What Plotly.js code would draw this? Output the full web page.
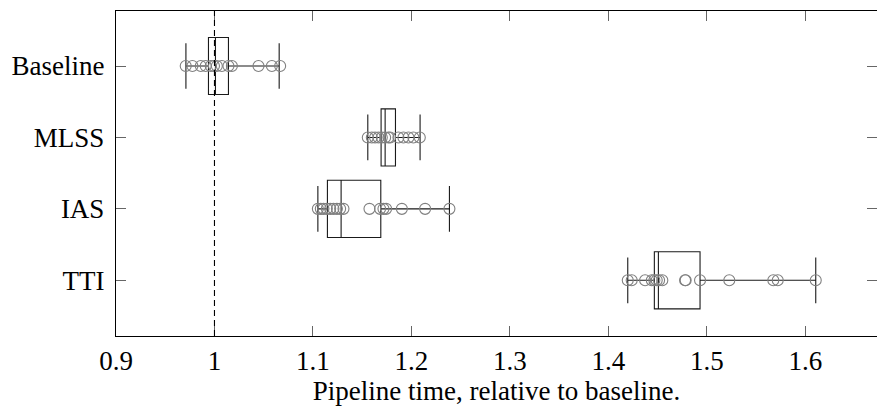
<!DOCTYPE html>
<html>
<head>
<meta charset="utf-8">
<script src="https://cdn.plot.ly/plotly-3.0.1.min.js"></script>
<style>html,body{margin:0;padding:0;background:#fff;}#chart{width:877px;height:408px;}</style>
</head>
<body>
<div id="chart"></div>
<script>
var categories = ['Baseline', 'MLSS', 'IAS', 'TTI'];

var q1Values = [0.9939, 1.1692, 1.1147, 1.4467];
var medianValues = [1.0010, 1.1733, 1.1286, 1.4508];
var q3Values = [1.0142, 1.1838, 1.1689, 1.4931];
var lowerWhiskers = [0.9710, 1.1557, 1.1050, 1.4197];
var upperWhiskers = [1.0657, 1.2088, 1.2386, 1.6106];

var baselinePoints = [0.9708, 0.9776, 0.9861, 0.9911, 0.9962, 0.9995, 1.0024, 1.0075, 1.0142, 1.0177, 1.0447, 1.0583, 1.0667];
var mlssPoints = [1.1557, 1.1598, 1.1631, 1.1665, 1.1699, 1.1733, 1.1766, 1.1784, 1.1868, 1.1919, 1.1970, 1.2020, 1.2085];
var iasPoints = [1.1050, 1.1080, 1.1107, 1.1141, 1.1175, 1.1208, 1.1243, 1.1276, 1.1310, 1.1574, 1.1682, 1.1716, 1.1743, 1.1903, 1.2139, 1.2386];
var ttiPoints = [1.4197, 1.4237, 1.4373, 1.4441, 1.4467, 1.4491, 1.4515, 1.4548, 1.4779, 1.4785, 1.4931, 1.5228, 1.5675, 1.5720, 1.6106];

var xTickValues = [0.9, 1.0, 1.1, 1.2, 1.3, 1.4, 1.5, 1.6];
var xTickLabels = ['0.9', '1', '1.1', '1.2', '1.3', '1.4', '1.5', '1.6'];
var referenceValue = 1.0;

var allPoints = [baselinePoints, mlssPoints, iasPoints, ttiPoints];
var px = [], py = [];
allPoints.forEach(function (arr, i) {
  arr.forEach(function (v) { px.push(v); py.push(categories[i]); });
});

var boxTrace = {
  type: 'box',
  orientation: 'h',
  y: categories,
  q1: q1Values,
  median: medianValues,
  q3: q3Values,
  lowerfence: lowerWhiskers,
  upperfence: upperWhiskers,
  width: 0.8,
  whiskerwidth: 0.8,
  fillcolor: 'rgba(0,0,0,0)',
  line: {color: '#1a1a1a', width: 1.1},
  boxpoints: false,
  hoverinfo: 'skip',
  showlegend: false
};

var pointTrace = {
  type: 'scatter',
  mode: 'markers',
  x: px,
  y: py,
  marker: {symbol: 'circle-open', size: 11, color: '#808080', line: {width: 1.1, color: '#808080'}},
  hoverinfo: 'skip',
  showlegend: false
};

var serif = 'Liberation Serif';

var layout = {
  width: 877,
  height: 408,
  margin: {l: 116, r: 0, t: 11, b: 72},
  paper_bgcolor: '#fff',
  plot_bgcolor: '#fff',
  font: {family: serif, size: 27, color: '#000'},
  showlegend: false,
  xaxis: {
    range: [0.9, 1.6728],
    tickvals: xTickValues,
    ticktext: xTickLabels,
    ticks: 'inside',
    ticklen: 10,
    tickwidth: 1,
    tickcolor: '#666',
    showline: true,
    linecolor: '#000',
    linewidth: 1.2,
    mirror: 'allticks',
    showgrid: false,
    zeroline: false,
    tickfont: {family: serif, size: 27, color: '#000'},
    ticklabelstandoff: 0,
    title: {text: 'Pipeline time, relative to baseline.', font: {family: serif, size: 27, color: '#000'}, standoff: 5}
  },
  yaxis: {
    type: 'category',
    categoryorder: 'array',
    categoryarray: categories,
    range: [3.78, -0.77],
    ticks: 'inside',
    ticklen: 10,
    tickwidth: 1,
    tickcolor: '#666',
    showline: true,
    linecolor: '#000',
    linewidth: 1.2,
    mirror: 'allticks',
    showgrid: false,
    zeroline: false,
    tickfont: {family: serif, size: 27, color: '#000'},
    ticklabelstandoff: 5
  },
  shapes: [{
    type: 'line', xref: 'x', yref: 'paper',
    x0: referenceValue, x1: referenceValue, y0: 0, y1: 1,
    line: {color: '#000', width: 1.1, dash: '6px,4px'},
    layer: 'above'
  }]
};

Plotly.newPlot('chart', [boxTrace, pointTrace], layout, {displayModeBar: false, staticPlot: true});
</script>
</body>
</html>
